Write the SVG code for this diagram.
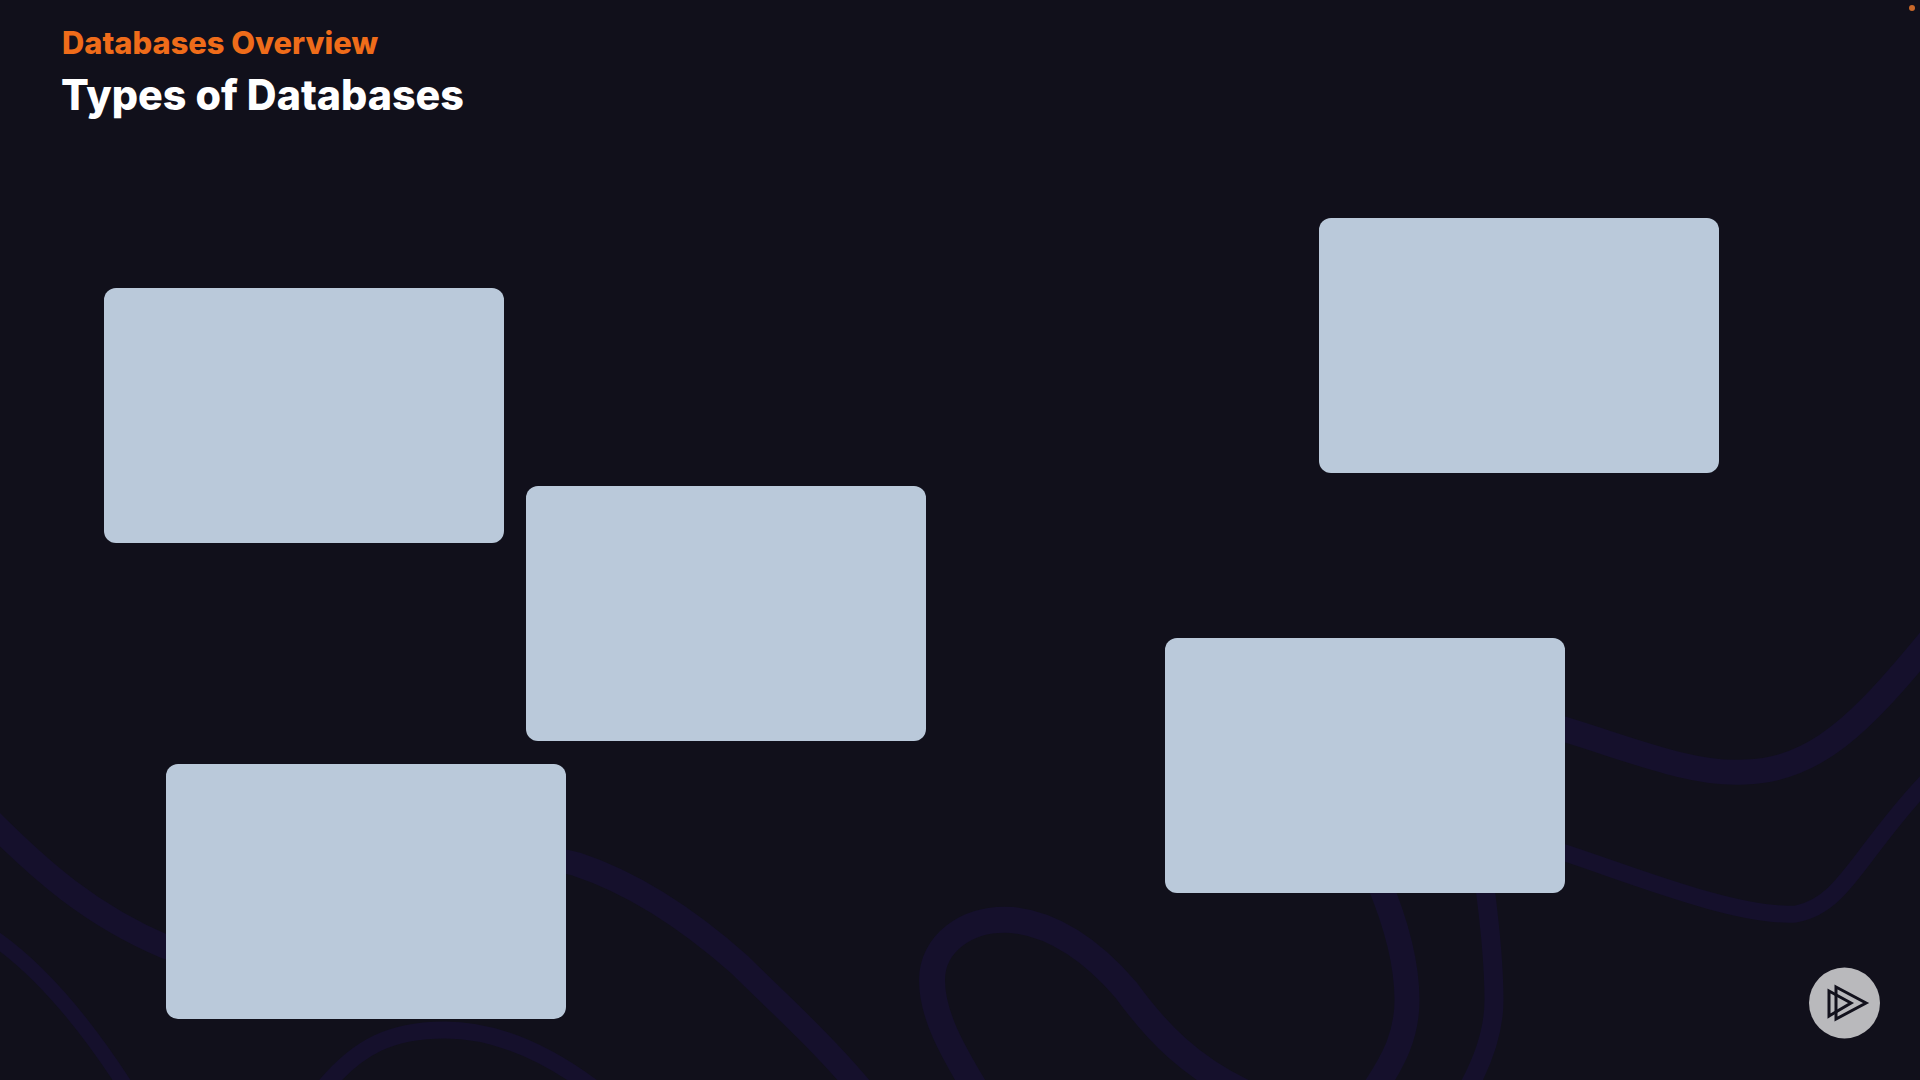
<svg xmlns="http://www.w3.org/2000/svg" width="1920" height="1080" viewBox="0 0 1920 1080">
<style>
.bg{fill:#11101b}
.wave{fill:none;stroke:#15102c;stroke-linecap:round;stroke-linejoin:round}
.box{fill:#bac9da}
.t{font-family:"Inter","Liberation Sans",sans-serif;font-weight:800}
.icon{fill:none;stroke:#12111c;stroke-width:3}
</style>
<rect class="bg" width="1920" height="1080"/>
<g id="waves">
<path class="wave" stroke-width="24" d="M-10 820C40 870 90 915 166 947C300 1000 450 830 576 864C640 885 695 925 740 965C775 1000 820 1040 862 1090"/>
<path class="wave" stroke-width="15" d="M-10 935C35 965 80 1015 128 1090"/>
<path class="wave" stroke-width="17" d="M322 1090C358 1045 393 1030 445 1030C498 1030 550 1055 596 1090"/>
<path class="wave" stroke-width="26" d="M976 1090C952 1050 932 1015 932 980C932 945 965 917 1012 920C1060 925 1100 960 1126 990C1155 1030 1190 1068 1250 1095"/>
<path class="wave" stroke-width="25" d="M1378 880C1397 925 1407 965 1407 1000C1407 1035 1394 1060 1374 1090"/>
<path class="wave" stroke-width="19" d="M1484 880C1490 925 1494 965 1494 1000C1494 1035 1481 1065 1467 1090"/>
<path class="wave" stroke-width="25" d="M1550 725C1620 745 1690 776 1745 772C1815 770 1860 725 1930 640"/>
<path class="wave" stroke-width="17" d="M1550 848C1620 870 1735 918 1796 914C1845 905 1860 850 1930 778"/>
</g>
<g id="box-1"><rect class="box" x="104" y="288" width="400" height="255" rx="12"/></g>
<g id="box-2"><rect class="box" x="526" y="486" width="400" height="255" rx="12"/></g>
<g id="box-3"><rect class="box" x="166" y="764" width="400" height="255" rx="12"/></g>
<g id="box-4"><rect class="box" x="1319" y="218" width="400" height="255" rx="12"/></g>
<g id="box-5"><rect class="box" x="1165" y="638" width="400" height="255" rx="12"/></g>
<g id="header">
<text class="t" x="62" y="54" font-size="31" fill="#ef6c1a" textLength="316" lengthAdjust="spacingAndGlyphs">Databases Overview</text>
<text class="t" x="61" y="110" font-size="42" fill="#ffffff" textLength="403" lengthAdjust="spacingAndGlyphs">Types of Databases</text>
</g>
<g id="logo">
<circle cx="1844.5" cy="1003" r="35.5" fill="#b9b9bc"/>
<path class="icon" d="M1836 987L1866 1003L1836 1019Z"/>
<path class="icon" d="M1829 991L1851 1003L1829 1016Z"/>
</g>
<circle id="dot" cx="1912" cy="8" r="3" fill="#c8682a"/>
</svg>
